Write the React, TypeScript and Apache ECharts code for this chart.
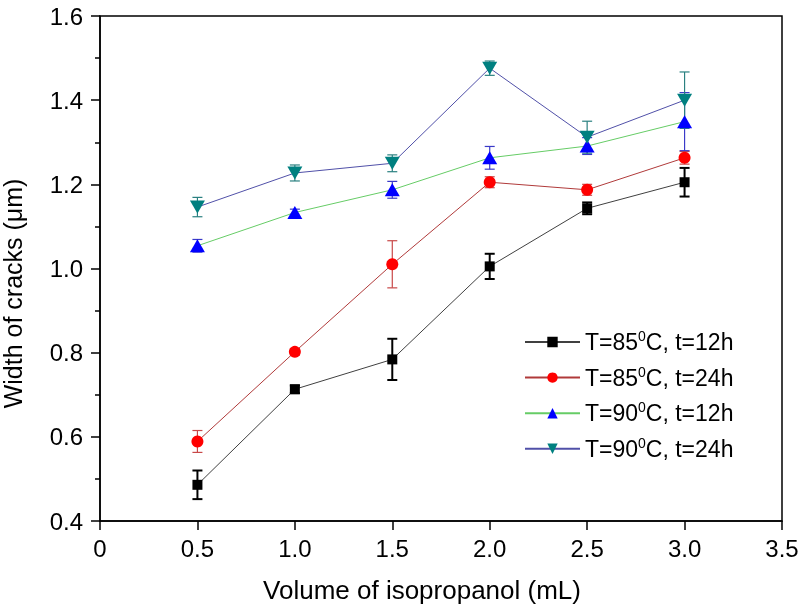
import React, { useEffect, useRef } from "react";
import * as echarts from "echarts";

const xValues = [0.5, 1.0, 1.5, 2.0, 2.5, 3.0];
const seriesNames = ["T=85⁰C, t=12h", "T=85⁰C, t=24h", "T=90⁰C, t=12h", "T=90⁰C, t=24h"];
const s85_12 = [0.486, 0.713, 0.784, 1.005, 1.143, 1.205];
const e85_12 = [0.034, 0.009, 0.049, 0.03, 0.014, 0.034];
const s85_24 = [0.589, 0.802, 1.01, 1.205, 1.187, 1.263];
const e85_24 = [0.026, 0.008, 0.056, 0.013, 0.013, 0.015];
const s90_12 = [1.054, 1.133, 1.187, 1.263, 1.291, 1.349];
const e90_12 = [0.015, 0.008, 0.02, 0.027, 0.02, 0.069];
const s90_24 = [1.146, 1.227, 1.25, 1.476, 1.312, 1.4];
const e90_24 = [0.023, 0.019, 0.02, 0.017, 0.038, 0.067];

const xTickLabels = ["0", "0.5", "1.0", "1.5", "2.0", "2.5", "3.0", "3.5"];
const yTickLabels = ["0.4", "0.6", "0.8", "1.0", "1.2", "1.4", "1.6"];

const FONT = "Liberation Sans, Arial, sans-serif";

const styles = [
  { line: "#404040", marker: "#000000", err: "#000000", errW: 2, symbol: "rect", size: 10, rotate: 0 },
  { line: "#b03a3a", marker: "#ff0000", err: "#c84848", errW: 1.2, symbol: "circle", size: 12, rotate: 0 },
  { line: "#66cc66", marker: "#0000ff", err: "#3a3ac8", errW: 1.2, symbol: "triangle", size: [15, 13], rotate: 0 },
  { line: "#5050a8", marker: "#008080", err: "#2a8080", errW: 1.2, symbol: "triangle", size: [15, 13], rotate: 180 },
];

const allVals = [s85_12, s85_24, s90_12, s90_24];
const allErrs = [e85_12, e85_24, e90_12, e90_24];

export default function App() {
  const ref = useRef<HTMLDivElement>(null);
  useEffect(() => {
    if (!ref.current) return;
    const chart = echarts.init(ref.current, null, { renderer: "svg" });

    const errSeries = allVals.map((vals, si) => {
      const st = styles[si];
      return {
        type: "custom",
        name: "err" + si,
        z: 1,
        encode: { x: 0, y: [1, 2] },
        data: xValues.map((x, i) => [x, vals[i] - allErrs[si][i], vals[i] + allErrs[si][i]]),
        renderItem: (params: any, api: any) => {
          const x = api.value(0);
          const p1 = api.coord([x, api.value(1)]);
          const p2 = api.coord([x, api.value(2)]);
          const hw = 5;
          const style = { stroke: st.err, lineWidth: st.errW, fill: "none" };
          return {
            type: "group",
            children: [
              { type: "line", shape: { x1: p1[0], y1: p1[1], x2: p2[0], y2: p2[1] }, style },
              { type: "line", shape: { x1: p1[0] - hw, y1: p1[1], x2: p1[0] + hw, y2: p1[1] }, style },
              { type: "line", shape: { x1: p2[0] - hw, y1: p2[1], x2: p2[0] + hw, y2: p2[1] }, style },
            ],
          };
        },
      };
    });

    const lineSeries = allVals.map((vals, si) => {
      const st = styles[si];
      return {
        type: "line",
        name: seriesNames[si],
        z: 3,
        data: xValues.map((x, i) => [x, vals[i]]),
        symbol: st.symbol,
        symbolSize: st.size,
        symbolRotate: st.rotate,
        showAllSymbol: true,
        lineStyle: { color: st.line, width: 1 },
        itemStyle: { color: st.marker },
      };
    });

    chart.setOption({
      animation: false,
      grid: { left: 100, right: 18, top: 16, bottom: 87, show: true, borderColor: "#000", borderWidth: 1.5, outerBoundsMode: "none" },
      legend: {
        data: seriesNames,
        orient: "vertical",
        left: 519,
        top: 324,
        itemWidth: 55,
        itemHeight: 13,
        itemGap: 9.6,
        textStyle: {
          fontFamily: FONT,
          fontSize: 23,
          color: "#000",
          lineHeight: 26,
          rich: {
            n: { fontFamily: FONT, fontSize: 23, color: "#000", lineHeight: 26 },
            sup: { fontFamily: FONT, fontSize: 14, color: "#000", lineHeight: 14, verticalAlign: "top" },
          },
        },
        formatter: (name: string) => {
          const parts = name.split("⁰");
          return "{n|" + parts[0] + "}{sup|0}{n|" + parts[1] + "}";
        },
      },
      xAxis: {
        type: "value",
        min: 0,
        max: 3.5,
        interval: 0.5,
        name: "Volume of isopropanol (mL)",
        nameLocation: "middle",
        nameGap: 56,
        nameTextStyle: { fontFamily: FONT, fontSize: 26, color: "#000", padding: [0, 38, 0, 0] },
        axisLine: { show: true, lineStyle: { color: "#000", width: 1.5 } },
        axisTick: { show: true, inside: false, length: 9, lineStyle: { color: "#000", width: 1.5 } },
        axisLabel: {
          fontFamily: FONT,
          fontSize: 24,
          color: "#000",
          margin: 15,
          formatter: (v: number) => xTickLabels[Math.round(v / 0.5)] ?? "",
        },
        splitLine: { show: false },
      },
      yAxis: {
        type: "value",
        min: 0.4,
        max: 1.6,
        interval: 0.2,
        name: "Width of cracks (μm)",
        nameLocation: "middle",
        nameGap: 75,
        nameTextStyle: { fontFamily: FONT, fontSize: 25, color: "#000", padding: [0, 50, 0, 0] },
        axisLine: { show: true, lineStyle: { color: "#000", width: 1.5 } },
        axisTick: { show: true, inside: false, length: 9, lineStyle: { color: "#000", width: 1.5 } },
        minorTick: { show: true, splitNumber: 2, length: 5, lineStyle: { color: "#000", width: 1.5 } },
        axisLabel: {
          fontFamily: FONT,
          fontSize: 24,
          color: "#000",
          margin: 17,
          formatter: (v: number) => yTickLabels[Math.round((v - 0.4) / 0.2)] ?? "",
        },
        splitLine: { show: false },
        minorSplitLine: { show: false },
      },
      series: [...errSeries, ...lineSeries],
    });
    return () => chart.dispose();
  }, []);
  return <div ref={ref} style={{ position: "fixed", left: 0, top: 0, width: 800, height: 608 }} />;
}
